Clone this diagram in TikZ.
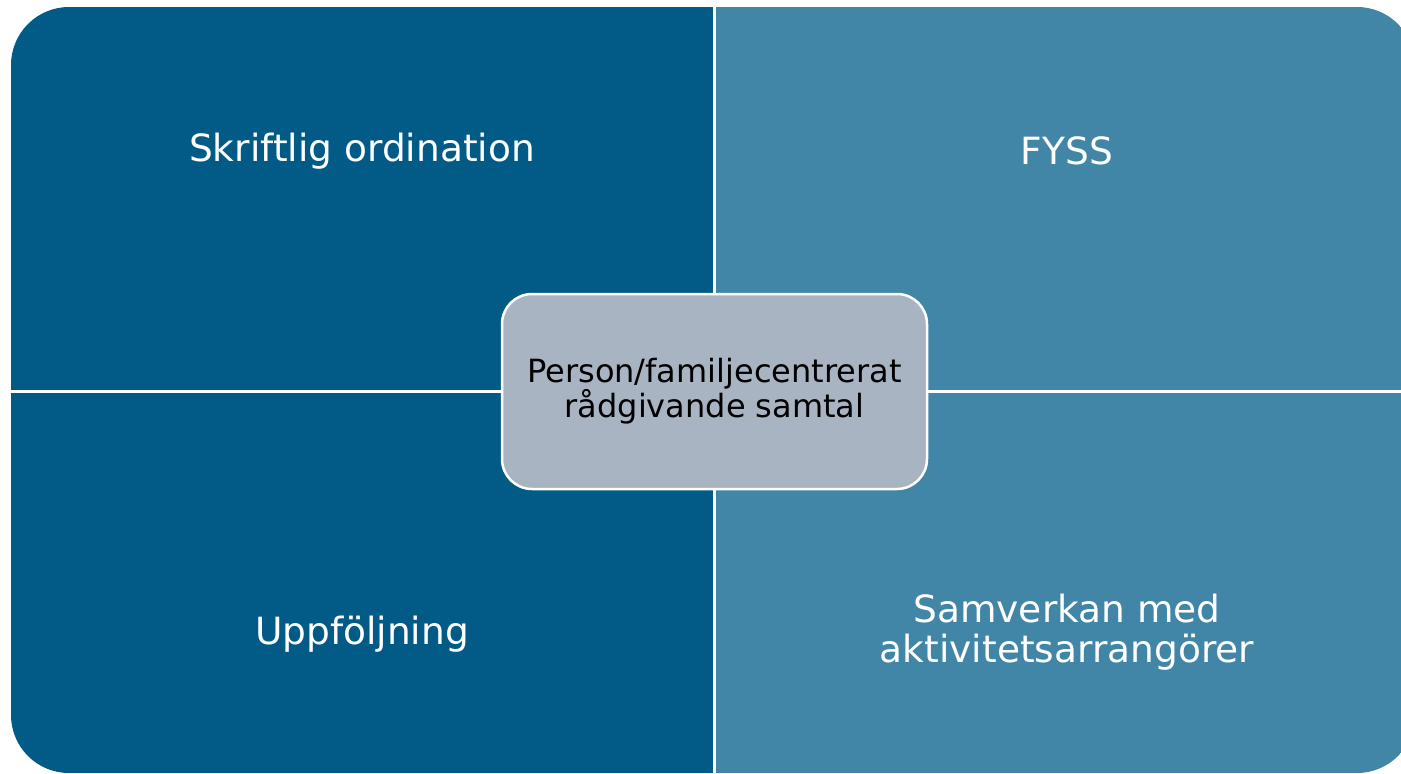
\documentclass[tikz,border=0pt]{standalone}
\usepackage{fontspec}
\setmainfont{DejaVu Sans}
\definecolor{quaddark}{RGB}{2,91,135}
\definecolor{quadlight}{RGB}{66,134,167}
\definecolor{centerfill}{RGB}{169,180,194}
\tikzset{
  quadtext/.style={text=white, align=center, font=\fontsize{37.5}{39.5}\selectfont, inner sep=0pt},
  centerbox/.style={draw=white, line width=2.5pt, fill=centerfill, rounded corners=30pt, minimum width=425pt, minimum height=195pt, align=center, font=\fontsize{32}{35}\selectfont, text=black, inner sep=0pt},
  divider/.style={draw=white, line width=3pt}
}
\begin{document}
\begin{tikzpicture}[x=1pt,y=-1pt]
\useasboundingbox (0,0) rectangle (1401,774);
\clip (0,0) rectangle (1401,774);
\begin{scope}
  \clip[rounded corners=58pt] (11,7) rectangle (1415,773);
  \fill[quaddark] (11,7) rectangle (714,773);
  \fill[quadlight] (714,7) rectangle (1415,773);
\end{scope}
\coordinate (vtop) at (714,7);
\coordinate (vbot) at (714,773);
\coordinate (hleft) at (11,391);
\coordinate (hright) at (1415,391);
\draw[divider] (vtop) -- (vbot);
\draw[divider] (hleft) -- (hright);
\node[quadtext] (tl) at (362,151) {Skriftlig ordination};
\node[quadtext] (tr) at (1067,151) {FYSS};
\node[quadtext] (bl) at (362,634) {Uppföljning};
\node[quadtext] (br) at (1067,632) {Samverkan med\\aktivitetsarrangörer};
\node[centerbox] (c) at (714.5,391.5) {Person/familjecentrerat\\rådgivande samtal};
\end{tikzpicture}
\end{document}
